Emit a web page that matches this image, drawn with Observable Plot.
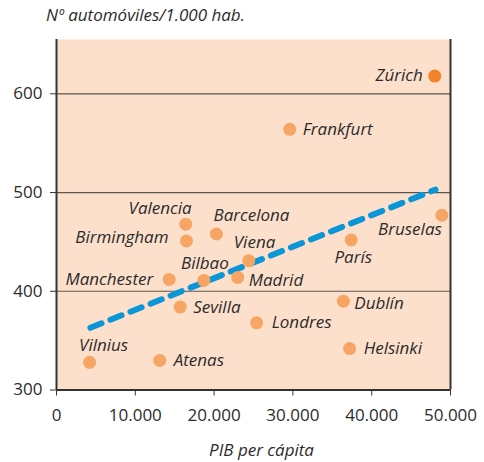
<!DOCTYPE html>
<html><head><meta charset="utf-8">
<script src="https://cdn.jsdelivr.net/npm/d3@7"></script>
<script src="https://cdn.jsdelivr.net/npm/@observablehq/plot@0.6"></script>
<style>
body{margin:0;background:#fff;font-family:"Open Sans",sans-serif;}
#title{height:30px;padding-left:46px;font-style:italic;font-size:17px;line-height:30px;color:#2b2b2b;}
</style></head><body>
<div id="title">Nº automóviles/1.000 hab.</div>
<div id="chart"></div>
<script>
// Data
const cities = ["Zúrich","Frankfurt","Valencia","Birmingham","Barcelona","Viena","Bilbao","Manchester","Madrid","Sevilla","Vilnius","Atenas","París","Bruselas","Dublín","Londres","Helsinki"];
const gdp    = [48000, 29600, 16400, 16500, 20300, 24400, 18700, 14300, 23000, 15700, 4200, 13100, 37400, 48900, 36400, 25400, 37200];
const cars   = [618, 564, 468, 451, 458, 431, 411, 412, 414, 384, 328, 330, 452, 477, 390, 368, 342];
const highlight = "Zúrich";
const trendGdp = [4300, 48100];
const trendCars = [363, 503];
const xTicks = [0, 10000, 20000, 30000, 40000, 50000];
const yTicks = [300, 400, 500, 600];
const gridValues = [400, 500, 600];
const xTitle = "PIB per cápita";

// Label placement (layout only)
const labelAnchor = ["end","start","end","end","start","start","middle","end","start","start","middle","start","middle","end","start","start","start"];
const labelDx = [-12, 13, 6, -18, -3, -15, 1, -16, 11, 13, 14, 14, 2, 0, 11, 15, 14];
const labelDy = [0, 0, -16, -3, -18, -18, -17, 0, 3, 0, -17, 0, 18, 14, 2, 0, 0];

const data = cities.map((c, i) => ({city: c, gdp: gdp[i], cars: cars[i], anchor: labelAnchor[i], dx: labelDx[i], dy: labelDy[i]}));
const trend = trendGdp.map((g, i) => ({gdp: g, cars: trendCars[i]}));
const fmt = d => d3.format(",")(d).replace(/,/g, ".");

const ink = "#2b2b2b";
const chart = Plot.plot({
  width: 484,
  height: 432,
  marginTop: 9,
  marginLeft: 56,
  marginRight: 34,
  marginBottom: 72.5,
  style: {fontFamily: "Open Sans", fontSize: "17px", color: ink, background: "transparent"},
  x: {domain: [0, 50000]},
  y: {domain: [300, 655]},
  marks: [
    Plot.frame({fill: "#fde0cb", stroke: "none"}),
    Plot.ruleY(gridValues, {stroke: "#5a5550", strokeWidth: 1.2}),
    Plot.ruleX([0, 50000], {stroke: "#333", strokeWidth: 2}),
    Plot.ruleY([300], {stroke: "#333", strokeWidth: 2}),
    Plot.axisY({ticks: yTicks, tickSize: 6, tickPadding: 8, label: null, tickFormat: d => d, stroke: "#333", fontSize: 17}),
    Plot.axisX({ticks: xTicks, tickSize: 6, tickPadding: 13, tickFormat: fmt, label: null, stroke: "#333", fontSize: 17}),
    Plot.text([xTitle], {frameAnchor: "bottom", dx: 8, dy: 61, lineAnchor: "middle", fontStyle: "italic", fontSize: 17, fill: ink}),
    Plot.line(trend, {x: "gdp", y: "cars", stroke: "#0b96d8", strokeWidth: 6, strokeDasharray: "12,9.6"}),
    Plot.dot(data.filter(d => d.city !== highlight), {x: "gdp", y: "cars", r: 6.5, fill: "#f7a564", stroke: "none"}),
    Plot.dot(data.filter(d => d.city === highlight), {x: "gdp", y: "cars", r: 6.5, fill: "#f2832b", stroke: "none"}),
    ...data.map(d => Plot.text([d], {x: "gdp", y: "cars", text: "city", textAnchor: d.anchor, dx: d.dx, dy: d.dy, fontStyle: "italic", fontSize: 17, fill: ink}))
  ]
});
document.getElementById("chart").appendChild(chart);
</script>
</body></html>
